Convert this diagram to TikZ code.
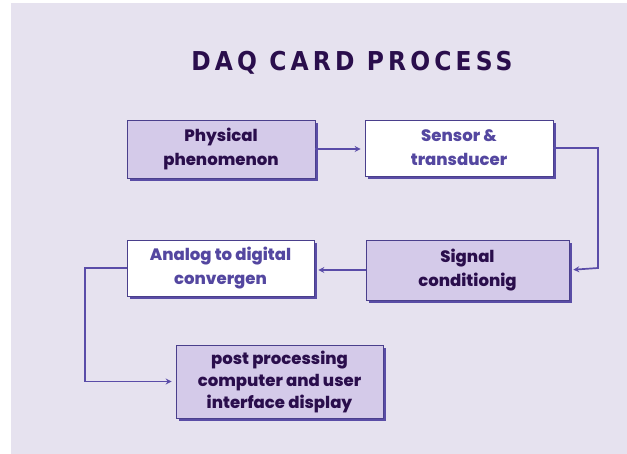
\documentclass[tikz,border=0pt]{standalone}
\usepackage{fontspec}
\setmainfont{Poppins}[BoldFont={Poppins ExtraBold}]
\newfontfamily\titlefont{DejaVu Sans Condensed}[BoldFont={DejaVu Sans Condensed Bold}, LetterSpace=16]
\usetikzlibrary{arrows.meta,shadows,calc}
\definecolor{bg}{HTML}{E6E2EF}
\definecolor{boxfill}{HTML}{D4CAE9}
\definecolor{boxline}{HTML}{4A3F8C}
\definecolor{shadowc}{HTML}{5A4DA6}
\definecolor{darktext}{HTML}{2A0E4C}
\definecolor{lighttext}{HTML}{5447A0}
\definecolor{arrowc}{HTML}{5A4CA8}
\tikzset{
  block/.style={draw=boxline, line width=0.6pt, rectangle, align=center,
    font=\fontsize{16.5}{24}\selectfont\bfseries, inner sep=2pt,
    drop shadow={shadow xshift=3pt, shadow yshift=-3pt, fill=shadowc, opacity=1}},
  filled/.style={block, fill=boxfill, text=darktext},
  plain/.style={block, fill=white, text=lighttext},
  conn/.style={draw=arrowc, line width=1.7pt, -{Stealth[length=6pt,width=6pt]}, shorten >=4pt}
}
\begin{document}
\begin{tikzpicture}[x=1pt,y=-1pt]
\useasboundingbox (0,0) rectangle (627,454);
\fill[white] (0,0) rectangle (627,454);
\fill[bg] (11,3) rectangle (627,454);
\node[text=darktext, font=\titlefont\fontsize{26}{28}\selectfont\bfseries] (title) at (352,63) {DAQ CARD PROCESS};
\node[filled, minimum width=188pt, minimum height=58pt] (phys) at (221,149) {Physical\\phenomenon};
\node[plain, minimum width=188pt, minimum height=56pt] (sens) at (459,148) {Sensor \&\\transducer};
\node[filled, minimum width=203pt, minimum height=60pt] (sig) at (467.5,270) {Signal\\conditionig};
\node[plain, minimum width=187pt, minimum height=56pt] (adc) at (220.5,268) {Analog to digital\\convergen};
\node[filled, minimum width=207pt, minimum height=73pt, font=\fontsize{16.5}{22}\selectfont\bfseries] (post) at (279.5,381.5) {post processing\\computer and user\\interface display};
\coordinate (c1) at (598,268);
\coordinate (c2) at (85,268);
\draw[conn] (phys.east) -- (phys.east -| sens.west);
\draw[conn] (sens.east) -| (c1) -- (sig.east);
\draw[conn] (sig.west) -- (sig.west -| adc.east);
\draw[conn] (adc.west) -- (c2) |- (post.west);
\end{tikzpicture}
\end{document}
